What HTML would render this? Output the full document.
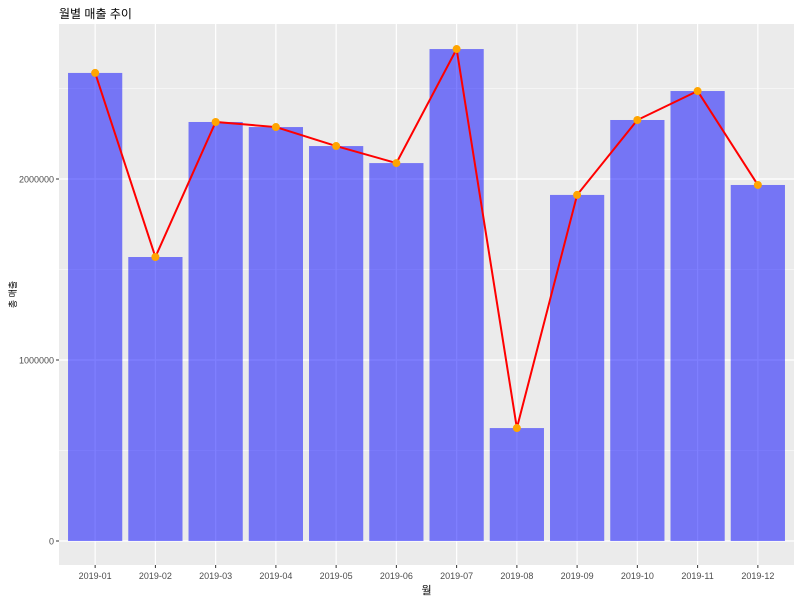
<!DOCTYPE html>
<html><head><meta charset="utf-8"><style>
body{margin:0;background:#fff;}
svg text{font-family:"Liberation Sans","Noto Sans CJK KR",sans-serif;}
</style></head><body>
<svg id="chart" width="800" height="600" xmlns="http://www.w3.org/2000/svg"></svg>
<script>
const categories=["2019-01","2019-02","2019-03","2019-04","2019-05","2019-06","2019-07","2019-08","2019-09","2019-10","2019-11","2019-12"];
const sales=[2586000,1569000,2315000,2287000,2182000,2088000,2718000,624000,1912000,2326000,2486000,1967000];
const yTicks=[0,1000000,2000000];
const yTickLabels=["0","1000000","2000000"];
const yMinor=[500000,1500000,2500000];

const NS="http://www.w3.org/2000/svg";
const svg=document.getElementById('chart');
const PL=59,PR=794,PT=24,PB=565;
const step=(PR-PL)/(categories.length+0.2);
const xs=i=>PL+step*(0.6+i);
const y0=541,pxPer=181/1000000;
const ys=v=>y0-v*pxPer;
function el(t,a,txt){const e=document.createElementNS(NS,t);for(const k in a)e.setAttribute(k,a[k]);if(txt!==undefined)e.textContent=txt;svg.appendChild(e);return e;}
let e;
e=el('rect',{x:PL,y:PT,width:PR-PL,height:PB-PT,fill:'#ebebeb'});


yMinor.forEach(v=>{e=el('line',{x1:PL,x2:PR,y1:ys(v),y2:ys(v),stroke:'#fff','stroke-width':0.6});

});
yTicks.forEach((v,i)=>{e=el('line',{x1:PL,x2:PR,y1:ys(v),y2:ys(v),stroke:'#fff','stroke-width':1.2});


e=el('line',{x1:PL-3,x2:PL,y1:ys(v),y2:ys(v),stroke:'#333','stroke-width':1});


e=el('text',{x:PL-5,y:ys(v)+3.5,'text-anchor':'end','font-size':9,fill:'#4d4d4d'},yTickLabels[i]);

});
categories.forEach((c,i)=>{e=el('line',{x1:xs(i),x2:xs(i),y1:PT,y2:PB,stroke:'#fff','stroke-width':1.2});


e=el('line',{x1:xs(i),x2:xs(i),y1:PB,y2:PB+3,stroke:'#333','stroke-width':1});


e=el('text',{x:xs(i),y:PB+14,'text-anchor':'middle','font-size':9,fill:'#4d4d4d'},c);

});
const bw=step*0.9;
sales.forEach((v,i)=>{e=el('rect',{x:xs(i)-bw/2,y:ys(v),width:bw,height:y0-ys(v),fill:'#0000ff','fill-opacity':0.5});

});
e=el('polyline',{points:sales.map((v,i)=>xs(i)+','+ys(v)).join(' '),fill:'none',stroke:'#ff0000','stroke-width':2});


sales.forEach((v,i)=>{e=el('circle',{cx:xs(i),cy:ys(v),r:4,fill:'#ffa500'});

});
e=el('text',{x:59,y:18,'font-size':12,fill:'#000'},'월별 매출 추이');


e=el('text',{x:(PL+PR)/2,y:594,'text-anchor':'middle','font-size':11,fill:'#000'},'월');


e=el('text',{x:16,y:(PT+PB)/2,'text-anchor':'middle','font-size':9,fill:'#000',transform:'rotate(-90 16 '+((PT+PB)/2)+')'},'총 매출');


</script>
</body></html>
